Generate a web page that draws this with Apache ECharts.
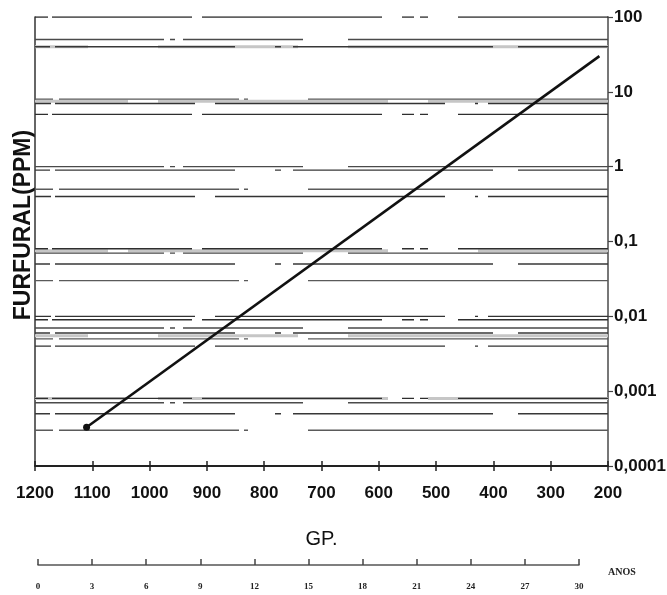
<!DOCTYPE html>
<html>
<head>
<meta charset="utf-8">
<script src="https://cdn.jsdelivr.net/npm/echarts@6/dist/echarts.min.js"></script>
<style>
  html, body { margin: 0; padding: 0; background: #fff; }
  #chart { width: 667px; height: 595px; }
</style>
</head>
<body>
<div id="chart"></div>
<script>
// Furfural concentration versus degree of polymerisation (GP), log scale
const gpValues = [1110, 215];
const furfuralValues = [0.00033, 30];

// Right-hand log axis tick labels (decimal comma), from 0,0001 up to 100
const furfuralTickLabels = ['0,0001', '0,001', '0,01', '0,1', '1', '10', '100'];

// GP axis range
const gpMin = 200;
const gpMax = 1200;
const gpStep = 100;

// Age scale printed under the GP axis
const yearMin = 0;
const yearMax = 30;
const yearStep = 3;

// Printed horizontal reference rules of the log paper
const gridLevels = [100, 50, 40, 8, 7, 5, 1, 0.9, 0.5, 0.4,
  0.08, 0.07, 0.05, 0.03, 0.01, 0.009, 0.007, 0.006, 0.005, 0.004,
  0.0008, 0.0007, 0.0005, 0.0003];
// Levels that also carry a wide pale band
const bandLevels = [40, 7.5, 0.075, 0.0055, 0.0008];

const chart = echarts.init(document.getElementById('chart'));

const labelFont = "'Liberation Sans', Arial, sans-serif";
const serif = "'Liberation Serif', 'DejaVu Serif', serif";

// Broken-rule dash patterns (dash, gap, dash, gap, ...)
const dashPatterns = [
  [150, 30, 8, 6, 12, 20, 180, 10, 140, 4],
  [260, 45, 120, 8, 5, 6, 150, 3],
  [90, 25, 200, 12, 6, 40, 180, 5],
  [300, 60, 4, 5, 180, 6],
  [120, 10, 3, 30, 230, 20, 140, 4]
];
const ruleColors = ['#2e2e2e', '#4a4a4a', '#383838', '#5a5a5a', '#333333'];
const bandPatterns = [[260, 50, 140, 70], [180, 40, 230, 30], [130, 90, 260, 20]];

const hRule = (v, style, z) => ({
  type: 'line', xAxisIndex: 0, yAxisIndex: 1,
  data: [[gpMin, v], [gpMax, v]],
  symbol: 'none', silent: true, z: z,
  lineStyle: style
});

const bandSeries = bandLevels.map((v, i) => hRule(v, {
  color: '#c6c6c6', width: 3, type: bandPatterns[i % bandPatterns.length]
}, 1));
const ruleSeries = gridLevels.map((v, i) => hRule(v, {
  color: ruleColors[i % ruleColors.length], width: 1.4,
  type: dashPatterns[i % dashPatterns.length]
}, 2));

const lineData = gpValues.map((g, i) => ({
  value: [g, furfuralValues[i]],
  symbolSize: i === 0 ? 7 : 0
}));

const plotGrid = { left: 35, right: 59, top: 17, bottom: 129, outerBoundsMode: 'none', containLabel: false };

chart.setOption({
  animation: false,
  backgroundColor: '#fff',
  grid: [
    Object.assign({}, plotGrid),
    Object.assign({}, plotGrid),
    { left: 38, right: 88, top: 560, height: 5, outerBoundsMode: 'none', containLabel: false }
  ],
  xAxis: [
    {
      gridIndex: 0, type: 'value', inverse: true,
      min: gpMin, max: gpMax, interval: gpStep,
      name: 'GP.', nameLocation: 'middle', nameGap: 63,
      nameTextStyle: { fontFamily: labelFont, fontSize: 20, color: '#111' },
      axisLine: { show: true, lineStyle: { color: '#222', width: 2 } },
      axisTick: { show: true, length: 5, lineStyle: { color: '#222', width: 1.5 } },
      axisLabel: {
        margin: 19, fontFamily: labelFont, fontWeight: 'bold', fontSize: 17, color: '#111',
        formatter: v => String(v)
      },
      splitLine: { show: false }
    },
    {
      gridIndex: 1, type: 'value', inverse: true,
      min: gpMin, max: gpMax, interval: gpStep, position: 'bottom',
      axisLine: { show: false },
      axisTick: { show: true, inside: true, length: 5, lineStyle: { color: '#222', width: 1.5 } },
      axisLabel: { show: false },
      splitLine: { show: false }
    },
    {
      gridIndex: 2, type: 'value',
      min: yearMin, max: yearMax, interval: yearStep,
      axisLine: { show: true, lineStyle: { color: '#555', width: 1.5 } },
      axisTick: {
        show: true, inside: true, length: 6,
        interval: (idx, v) => v === yearMin || v === yearMax,
        lineStyle: { color: '#444', width: 1.5 }
      },
      axisLabel: { margin: 17, fontFamily: serif, fontWeight: 'bold', fontSize: 9, color: '#222' },
      splitLine: { show: false }
    }
  ],
  yAxis: [
    {
      gridIndex: 0, type: 'log', logBase: 10, position: 'left',
      min: 0.0001, max: 100,
      axisLine: { show: true, lineStyle: { color: '#333', width: 1.5 } },
      axisTick: { show: false },
      axisLabel: { show: false },
      splitLine: { show: false }
    },
    {
      gridIndex: 0, type: 'log', logBase: 10, position: 'right',
      min: 0.0001, max: 100,
      axisLine: { show: true, lineStyle: { color: '#777', width: 2 } },
      axisTick: { show: true, length: 5, lineStyle: { color: '#444', width: 1.2 } },
      axisLabel: {
        margin: 6, fontFamily: labelFont, fontWeight: 'bold', fontSize: 17, color: '#111',
        formatter: v => furfuralTickLabels[Math.round(Math.log10(v)) + 4]
      },
      splitLine: { show: false }
    },
    { gridIndex: 1, type: 'value', show: false, min: 0, max: 1 },
    { gridIndex: 2, type: 'value', show: false, min: 0, max: 1 }
  ],
  graphic: [
    {
      type: 'text', x: 24, y: 225, rotation: Math.PI / 2,
      style: {
        text: 'FURFURAL(PPM)', fill: '#111',
        font: 'bold 23px "Liberation Sans", Arial, sans-serif',
        align: 'center', verticalAlign: 'middle'
      }
    },
    {
      type: 'text', x: 608, y: 572,
      style: {
        text: 'ANOS', fill: '#222',
        font: 'bold 10px "Liberation Serif", "DejaVu Serif", serif',
        align: 'left', verticalAlign: 'middle'
      }
    }
  ],
  series: bandSeries.concat(ruleSeries, [
    {
      name: 'furfural', type: 'line', xAxisIndex: 0, yAxisIndex: 1,
      data: lineData, symbol: 'circle', z: 5,
      lineStyle: { color: '#111', width: 2.6 },
      itemStyle: { color: '#111' }
    }
  ])
});
</script>
</body>
</html>
